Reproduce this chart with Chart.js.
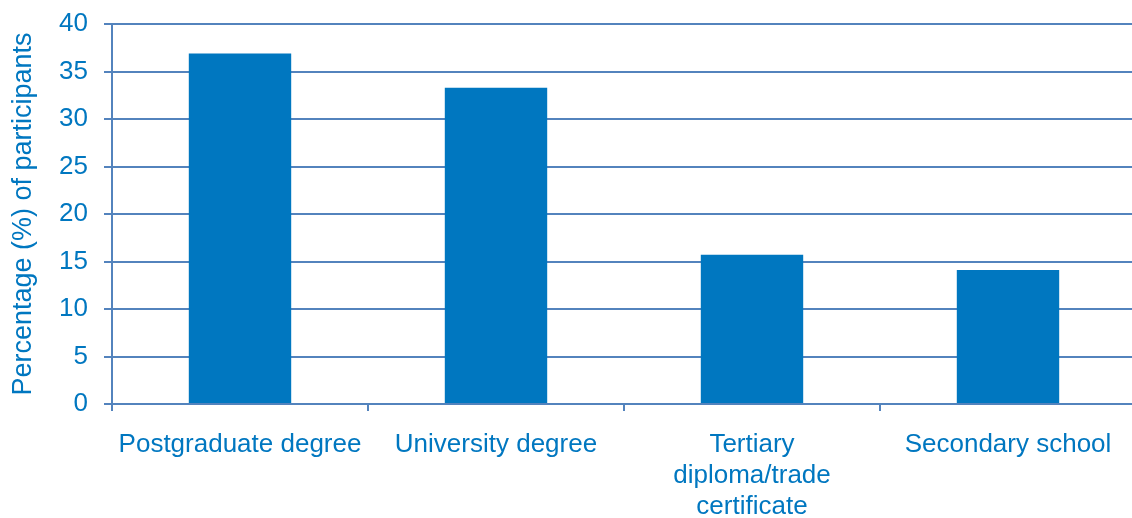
<!DOCTYPE html>
<html>
<head>
<meta charset="utf-8">
<script src="https://cdn.jsdelivr.net/npm/chart.js@4/dist/chart.umd.min.js"></script>
<style>
  html, body { margin: 0; padding: 0; background: #fff; overflow: hidden; }
  #wrap { width: 1132px; height: 518px; overflow: hidden; }
  #wrap div { width: 1144px; height: 518px; position: relative; }
</style>
</head>
<body>
<div id="wrap"><div><canvas id="eduChart"></canvas></div></div>
<script>
// categories and percentage values
const categories = [
  "Postgraduate degree",
  "University degree",
  ["Tertiary", "diploma/trade", "certificate"],
  "Secondary school"
];
const percentages = [36.9, 33.3, 15.7, 14.1];
const yTicks = [0, 5, 10, 15, 20, 25, 30, 35, 40];

const BLUE = "#0077c0";
const GRID = "#5383bd";
const FONT = { family: "'Liberation Sans', Arial, sans-serif", size: 26 };

new Chart(document.getElementById("eduChart"), {
  type: "bar",
  data: {
    labels: categories,
    datasets: [{
      data: percentages,
      backgroundColor: BLUE,
      barPercentage: 0.4,
      categoryPercentage: 1.0
    }]
  },
  options: {
    responsive: true,
    maintainAspectRatio: false,
    animation: false,
    layout: { padding: { top: 24, right: 8, left: 0, bottom: 0 } },
    plugins: { legend: { display: false }, tooltip: { enabled: false } },
    scales: {
      x: {
        offset: true,
        grid: { offset: true, drawOnChartArea: false, drawTicks: true, tickLength: 7, color: GRID, lineWidth: 2 },
        border: { color: GRID, width: 2 },
        ticks: { color: BLUE, font: FONT, padding: 18, maxRotation: 0, autoSkip: false },
        afterFit: s => { s.height = 114; }
      },
      y: {
        min: 0,
        max: 40,
        afterBuildTicks: s => { s.ticks = yTicks.map(v => ({ value: v })); },
        grid: { color: GRID, lineWidth: 2, tickLength: 8 },
        border: { color: GRID, width: 2 },
        ticks: { color: BLUE, font: FONT, padding: 16 },
        title: {
          display: true,
          text: "Percentage (%) of participants",
          color: BLUE,
          font: { family: FONT.family, size: 27 },
          padding: { top: 7, bottom: 0 }
        },
        afterFit: s => { s.width = 112; s.paddingTop = 0; s.paddingBottom = 0; }
      }
    }
  }
});
</script>
</body>
</html>
